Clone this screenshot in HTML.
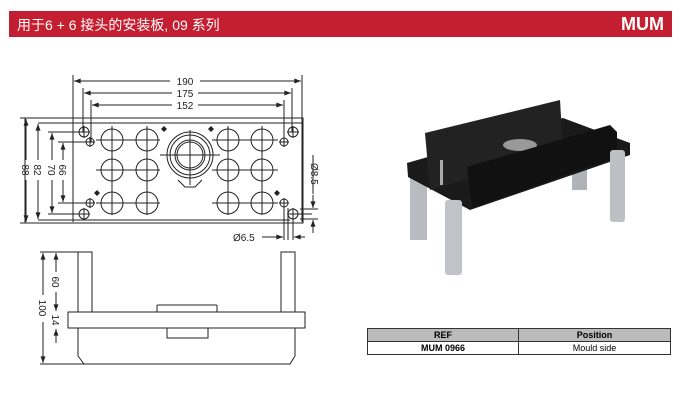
<!DOCTYPE html>
<html><head><meta charset="utf-8"><style>
body{margin:0;width:684px;height:402px;background:#fff;overflow:hidden;position:relative;font-family:"Liberation Sans","Noto Sans CJK SC",sans-serif}
.hdr{position:absolute;left:9px;top:11px;width:663px;height:26px;background:#c41f30;color:#fff}
.hdr .t{position:absolute;left:8px;top:4px;font-size:14px}
.hdr .m{position:absolute;right:8px;top:3px;font-size:18px;font-weight:bold}
table{position:absolute;left:367px;top:328px;width:304px;border-collapse:collapse;font-size:9px;text-align:center}
td{border:1px solid #333;height:12px;padding:0}
tr.h td{background:#bbb;font-weight:bold}
</style></head><body>
<div class="hdr"><span class="t">用于6 + 6 接头的安装板, 09 系列</span><span class="m">MUM</span></div>
<svg width="684" height="402" style="position:absolute;left:0;top:0" font-family="Liberation Sans" font-size="10" fill="none" stroke="#222" stroke-width="1">
<defs><marker id="a" viewBox="0 0 8 6" refX="8" refY="3" markerWidth="7" markerHeight="5" orient="auto-start-reverse"><path d="M0,0L8,3L0,6z" fill="#222" stroke="none"/></marker></defs>
<!-- plate -->
<rect x="25" y="118" width="278" height="105"/>
<line x1="38" y1="123" x2="303" y2="123"/>
<line x1="38" y1="220" x2="290" y2="220"/>
<!-- top dims -->
<line x1="73" y1="75" x2="73" y2="222"/><line x1="302" y1="75" x2="302" y2="222"/>
<line x1="83" y1="88" x2="83" y2="132"/><line x1="292" y1="88" x2="292" y2="132"/>
<line x1="91" y1="100" x2="91" y2="142"/><line x1="284" y1="100" x2="284" y2="142"/>
<line x1="74" y1="81" x2="170" y2="81" marker-start="url(#a)"/><line x1="200" y1="81" x2="301" y2="81" marker-end="url(#a)"/>
<line x1="84" y1="93" x2="172" y2="93" marker-start="url(#a)"/><line x1="198" y1="93" x2="291" y2="93" marker-end="url(#a)"/>
<line x1="92" y1="105" x2="172" y2="105" marker-start="url(#a)"/><line x1="198" y1="105" x2="283" y2="105" marker-end="url(#a)"/>
<g fill="#222" stroke="none" text-anchor="middle"><text x="185" y="85">190</text><text x="185" y="97">175</text><text x="185" y="109">152</text></g>
<!-- left dims -->
<line x1="20" y1="118" x2="40" y2="118"/><line x1="20" y1="223" x2="40" y2="223"/>
<line x1="26" y1="119" x2="26" y2="160" marker-start="url(#a)"/><line x1="26" y1="180" x2="26" y2="222" marker-end="url(#a)"/>
<line x1="38" y1="124" x2="38" y2="160" marker-start="url(#a)"/><line x1="38" y1="180" x2="38" y2="219" marker-end="url(#a)"/>
<line x1="48" y1="132" x2="84" y2="132"/><line x1="48" y1="214" x2="84" y2="214"/>
<line x1="52" y1="133" x2="52" y2="160" marker-start="url(#a)"/><line x1="52" y1="180" x2="52" y2="213" marker-end="url(#a)"/>
<line x1="58" y1="142" x2="90" y2="142"/><line x1="58" y1="203" x2="90" y2="203"/>
<line x1="63" y1="143" x2="63" y2="160" marker-start="url(#a)"/><line x1="63" y1="180" x2="63" y2="202" marker-end="url(#a)"/>
<g fill="#222" stroke="none" text-anchor="middle">
<text transform="translate(22,170) rotate(90)">88</text><text transform="translate(34,170) rotate(90)">82</text>
<text transform="translate(48,170) rotate(90)">70</text><text transform="translate(59,170) rotate(90)">66</text></g>
<!-- holes -->
<g>
<circle cx="112" cy="140" r="11"/><circle cx="147" cy="140" r="11"/><circle cx="228" cy="140" r="11"/><circle cx="262" cy="140" r="11"/>
<circle cx="112" cy="170" r="11"/><circle cx="147" cy="170" r="11"/><circle cx="228" cy="170" r="11"/><circle cx="262" cy="170" r="11"/>
<circle cx="112" cy="203" r="11"/><circle cx="147" cy="203" r="11"/><circle cx="228" cy="203" r="11"/><circle cx="262" cy="203" r="11"/>
<path d="M96 140H160M112 126V215M147 126V215M96 170H160M96 203H160M212 140H278M212 170H278M212 203H278M228 126V215M262 126V215"/>
<circle cx="190" cy="155" r="23"/><circle cx="190" cy="155" r="20"/><circle cx="190" cy="155" r="15"/><circle cx="190" cy="155" r="13"/>
<path d="M160 155H220M190 130V185M178 180L185 187H195L202 180"/>
<circle cx="84" cy="132" r="5"/><circle cx="90" cy="142" r="4"/><circle cx="90" cy="203" r="4"/><circle cx="84" cy="214" r="5"/>
<circle cx="293" cy="132" r="5"/><circle cx="284" cy="142" r="4"/><circle cx="284" cy="203" r="4"/><circle cx="293" cy="214" r="5"/>
<path d="M78 132H90M84 126V138M85 142H95M90 137V147M85 203H95M90 198V208M78 214H90M84 208V220M287 132H299M293 126V138M279 142H289M284 137V147M279 203H289M284 198V240M287 214H312M293 208V240M288 208V240"/>
</g>
<g fill="#222" stroke="none"><path d="M164 126l3 3-3 3-3-3zM211 126l3 3-3 3-3-3zM97 190l3 3-3 3-3-3zM277 190l3 3-3 3-3-3z"/></g>
<!-- right dims -->
<line x1="300" y1="209" x2="318" y2="209"/><line x1="300" y1="219" x2="318" y2="219"/>
<line x1="313" y1="195" x2="313" y2="208" marker-end="url(#a)"/><line x1="313" y1="233" x2="313" y2="220" marker-end="url(#a)"/>
<line x1="313" y1="155" x2="313" y2="194"/>
<line x1="262" y1="237" x2="283" y2="237" marker-end="url(#a)"/><line x1="305" y1="237" x2="294" y2="237" marker-end="url(#a)"/>
<g fill="#222" stroke="none"><text transform="translate(311,163) rotate(90)">Ø8.5</text><text x="233" y="241">Ø6.5</text></g>
<!-- side view -->
<rect x="78" y="252" width="14" height="60"/><rect x="281" y="252" width="14" height="60"/>
<rect x="68" y="312" width="237" height="16"/>
<path d="M157 312V306Q157 305 158 305H216Q217 305 217 306V312M167 328V338H208V328"/>
<path d="M78 328V356L84 364H290L295 356V328"/>
<line x1="40" y1="252" x2="92" y2="252"/><line x1="40" y1="364" x2="84" y2="364"/>
<line x1="43" y1="253" x2="43" y2="295" marker-start="url(#a)"/><line x1="43" y1="322" x2="43" y2="363" marker-end="url(#a)"/>
<line x1="56" y1="253" x2="56" y2="272" marker-start="url(#a)"/><line x1="56" y1="292" x2="56" y2="311" marker-end="url(#a)"/>
<line x1="56" y1="305" x2="56" y2="311"/><line x1="56" y1="329" x2="56" y2="343" marker-start="url(#a)"/>
<g fill="#222" stroke="none" text-anchor="middle"><text transform="translate(39,308) rotate(90)">100</text><text transform="translate(52,282) rotate(90)">60</text><text transform="translate(52,320) rotate(90)">14</text></g>
<!-- photo -->
<g stroke="none">
<rect x="410" y="170" width="17" height="70" fill="#b8bcc0"/><rect x="572" y="150" width="15" height="40" fill="#b0b4b8"/>
<polygon points="407,163 563,118 630,143 630,155 470,210 408,177" fill="#1a1a1a"/>
<polygon points="425,133 560,100 563,150 430,190" fill="#222"/>
<ellipse cx="520" cy="145" rx="17" ry="6" fill="#999"/>
<polygon points="467,167 610,125 617,132 617,157 472,208" fill="#111"/>
<rect x="445" y="200" width="17" height="75" rx="3" fill="#c0c4c8"/><rect x="610" y="150" width="15" height="72" rx="3" fill="#bcc0c4"/>
<rect x="440" y="160" width="3" height="25" fill="#aaa"/>
</g>
</svg>
<table><tr class="h"><td style="width:150px">REF</td><td>Position</td></tr><tr><td style="font-weight:bold">MUM 0966</td><td>Mould side</td></tr></table>
</body></html>
